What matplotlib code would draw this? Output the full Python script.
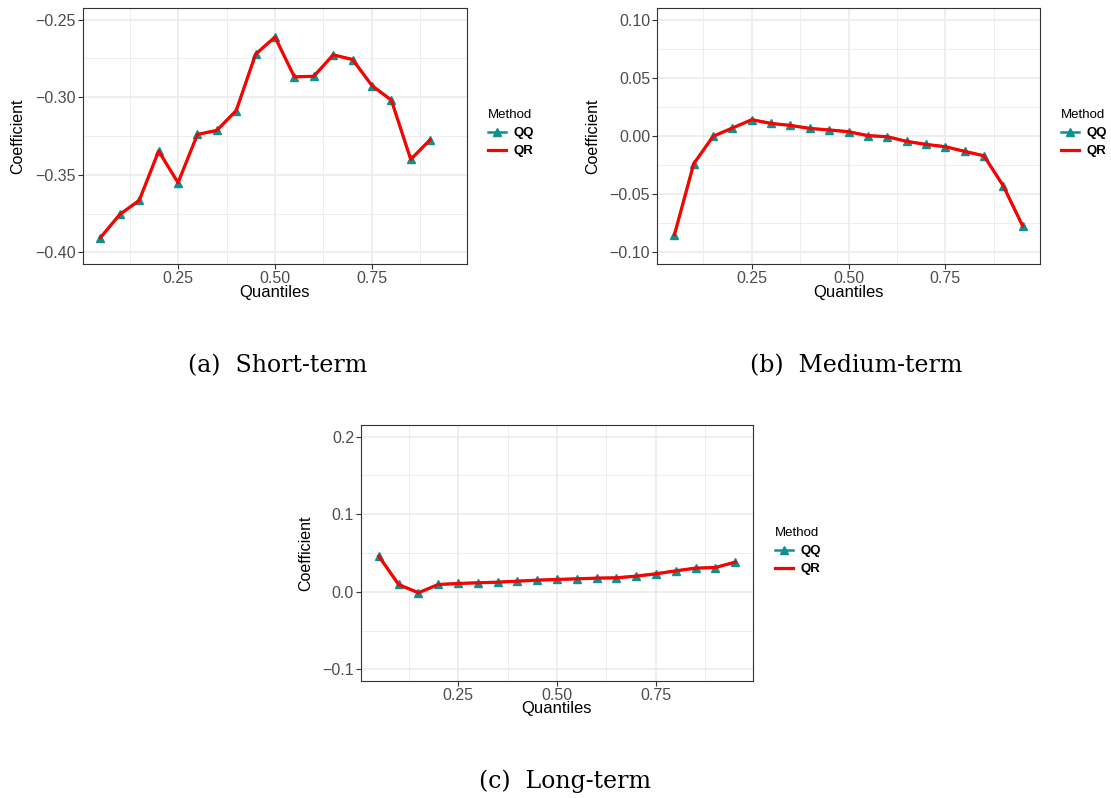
import matplotlib
matplotlib.use("Agg")
import matplotlib.pyplot as plt
from matplotlib.lines import Line2D

plt.rcParams['font.family'] = ['Liberation Sans', 'DejaVu Sans']

W, H = 1111, 798

quantiles = [0.05, 0.10, 0.15, 0.20, 0.25, 0.30, 0.35, 0.40, 0.45, 0.50,
             0.55, 0.60, 0.65, 0.70, 0.75, 0.80, 0.85, 0.90, 0.95]

# short-term has no estimate at 0.95
short_qq = [-0.3905, -0.3755, -0.3665, -0.3347, -0.3551, -0.3240, -0.3214,
            -0.3086, -0.2723, -0.2612, -0.2869, -0.2865, -0.2727, -0.2757,
            -0.2925, -0.3019, -0.3401, -0.3274]
short_qr = list(short_qq)

medium_qq = [-0.0849, -0.0238, -0.0003, 0.0069, 0.0140, 0.0108, 0.0091,
             0.0065, 0.0052, 0.0037, 0.0003, -0.0006, -0.0046, -0.0072,
             -0.0092, -0.0132, -0.0170, -0.0428, -0.0772]
medium_qr = list(medium_qq)

long_qq = [0.0459, 0.0094, -0.0013, 0.0094, 0.0107, 0.0116, 0.0124, 0.0137,
           0.0150, 0.0159, 0.0167, 0.0176, 0.0180, 0.0202, 0.0232, 0.0270,
           0.0305, 0.0313, 0.0382]
long_qr = list(long_qq)

x_ticks = [0.25, 0.50, 0.75]
x_labels = ["0.25", "0.50", "0.75"]

TEAL = "#0E9090"
RED = "#FF0000"
GRID = "#EBEBEB"


def panel(fig, box, qq, qr, ylim, yticks, ylabels, yminor,
          ylab_x, xlab_y, leg_xy, caption, cap_xy):
    x0, y0, x1, y1 = box
    ax = fig.add_axes([x0 / W, 1 - y1 / H, (x1 - x0) / W, (y1 - y0) / H])
    xs = quantiles[:len(qq)]
    ax.set_xlim(0.005, 0.995)
    pad = (ylim[1] - ylim[0]) * 0.05
    ax.set_ylim(ylim[0] - pad, ylim[1] + pad)

    for v in [0.125, 0.375, 0.625, 0.875]:
        ax.axvline(v, color=GRID, lw=0.6, zorder=0)
    for v in yminor:
        ax.axhline(v, color=GRID, lw=0.6, zorder=0)
    for v in x_ticks:
        ax.axvline(v, color=GRID, lw=1.2, zorder=0)
    for v in yticks:
        ax.axhline(v, color=GRID, lw=1.2, zorder=0)

    ax.plot(xs, qq, color=TEAL, lw=1.8, marker="^", ms=6, zorder=2)
    ax.plot(xs, qr, color=RED, lw=2.3, zorder=3)

    ax.set_xticks(x_ticks)
    ax.set_xticklabels(x_labels)
    ax.set_yticks(yticks)
    ax.set_yticklabels(ylabels)
    ax.tick_params(colors="#333333", labelcolor="#4D4D4D", labelsize=11.5,
                   length=3.5, width=0.8, pad=1.5)
    for s in ax.spines.values():
        s.set_color("#333333")
        s.set_linewidth(0.8)
    ax.set_xlabel("Quantiles", fontsize=12, va="center")
    ax.xaxis.set_label_coords(0.5, -(xlab_y - y1) / (y1 - y0))
    ax.set_ylabel("Coefficient", fontsize=11.5, va="center")
    ax.yaxis.set_label_coords((ylab_x - x0) / (x1 - x0), 0.5)

    handles = [Line2D([], [], color=TEAL, lw=1.8, marker="^", ms=5.5),
               Line2D([], [], color=RED, lw=2.3)]
    leg = fig.legend(handles, ["QQ", "QR"], title="Method", frameon=False,
                     loc="upper left", bbox_to_anchor=(leg_xy[0] / W, 1 - leg_xy[1] / H),
                     prop={"weight": "bold", "size": 9.5}, title_fontsize=9.5,
                     handlelength=1.4, handletextpad=0.5, labelspacing=0.45,
                     borderaxespad=0, borderpad=0)
    leg._legend_box.align = "left"

    fig.text(cap_xy[0] / W, 1 - cap_xy[1] / H, caption, family="DejaVu Serif",
             fontsize=17, ha="center", va="center")
    return ax


fig = plt.figure(figsize=(W / 100, H / 100), dpi=100)

panel(fig, (83, 8, 467, 264), short_qq, short_qr, (-0.40, -0.25),
      [-0.40, -0.35, -0.30, -0.25], ["\u22120.40", "\u22120.35", "\u22120.30", "\u22120.25"],
      [-0.375, -0.325, -0.275], 18, 292, (488, 109), "(a)  Short-term", (278, 366))

panel(fig, (657, 8, 1040, 264), medium_qq, medium_qr, (-0.10, 0.10),
      [-0.10, -0.05, 0.0, 0.05, 0.10], ["\u22120.10", "\u22120.05", "0.00", "0.05", "0.10"],
      [-0.075, -0.025, 0.025, 0.075], 593, 292, (1061, 109), "(b)  Medium-term", (856, 366))

panel(fig, (361, 425, 753, 681), long_qq, long_qr, (-0.10, 0.20),
      [-0.1, 0.0, 0.1, 0.2], ["\u22120.1", "0.0", "0.1", "0.2"],
      [-0.05, 0.05, 0.15], 306, 709, (775, 527), "(c)  Long-term", (565, 781))

fig.savefig("out.png", dpi=100)
